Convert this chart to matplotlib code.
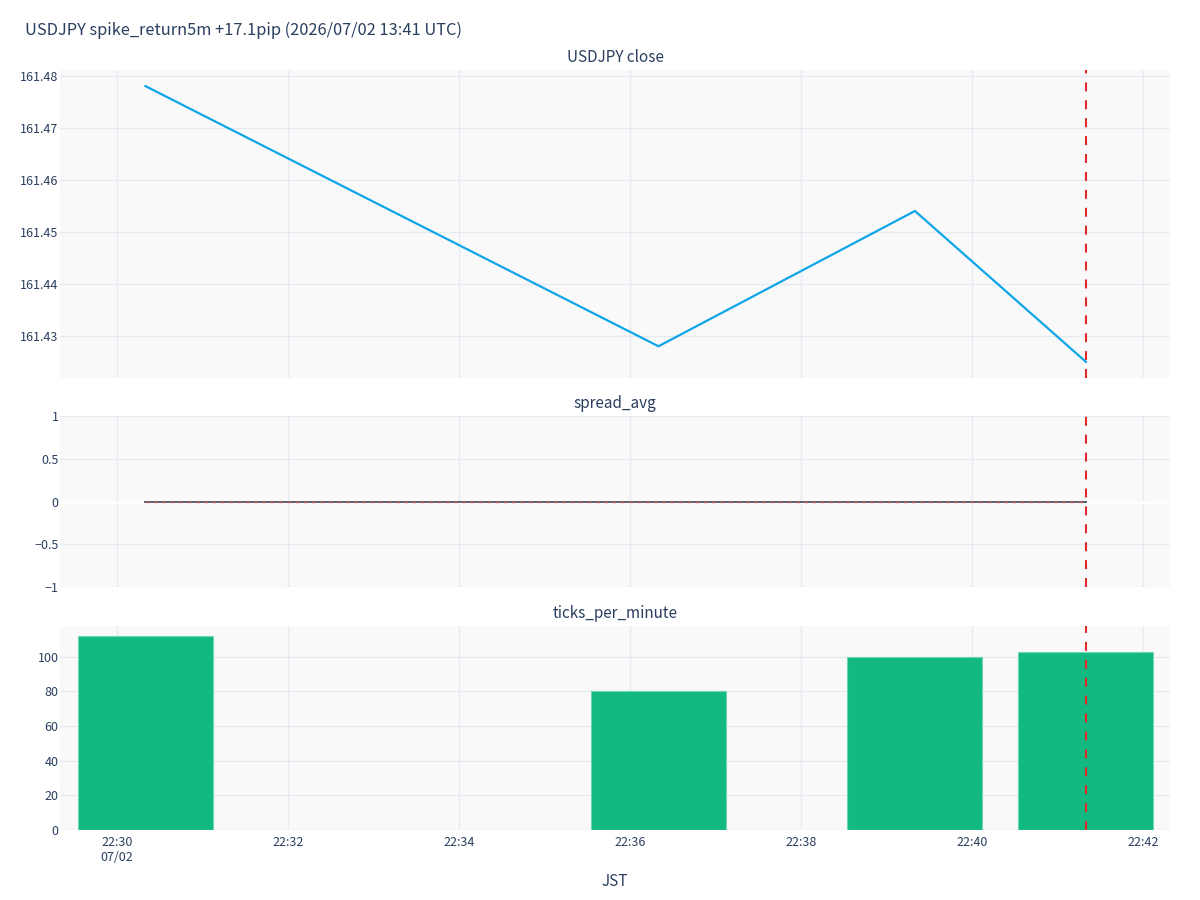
import matplotlib
matplotlib.use("Agg")
import matplotlib.pyplot as plt
import matplotlib.dates as mdates
import pandas as pd
import numpy as np

plt.rcParams['font.family'] = ['Noto Sans CJK JP', 'DejaVu Sans']

# ---- data ----
times = ["2026-07-02 22:30:20", "2026-07-02 22:36:20", "2026-07-02 22:39:20", "2026-07-02 22:41:20"]
close = [161.478, 161.428, 161.454, 161.425]
spread_avg = [0.0, 0.0, 0.0, 0.0]
ticks_per_minute = [112, 80, 100, 103]
event_time = "2026-07-02 22:41:20"
title = "USDJPY spike_return5m +17.1pip (2026/07/02 13:41 UTC)"
subtitles = ["USDJPY close", "spread_avg", "ticks_per_minute"]
xlim = ("2026-07-02 22:29:20", "2026-07-02 22:42:19")
close_ylim = (161.4219, 161.4811)
close_yticks = [161.43, 161.44, 161.45, 161.46, 161.47, 161.48]
spread_yticks = [-1, -0.5, 0, 0.5, 1]
spread_yticklabels = ["\u22121", "\u22120.5", "0", "0.5", "1"]
tick_ylim = (0, 117.8)
tick_yticks = [0, 20, 40, 60, 80, 100]
xticks = ["2026-07-02 22:30", "2026-07-02 22:32", "2026-07-02 22:34", "2026-07-02 22:36",
          "2026-07-02 22:38", "2026-07-02 22:40", "2026-07-02 22:42"]
xticklabels = ["22:30\n07/02", "22:32", "22:34", "22:36", "22:38", "22:40", "22:42"]
bar_width_min = 1.58

t = pd.to_datetime(times)
ev = pd.to_datetime(event_time)
xl = pd.to_datetime(list(xlim))
xt = pd.to_datetime(xticks)

TXT = "#2a3f5f"
BG = "#f9f9fa"
GRID = "#e6ebf2"

fig = plt.figure(figsize=(12, 9), dpi=100)
L, R = 0.05, 0.975
ax1 = fig.add_axes([L, 1 - 378/900, R - L, (378 - 70)/900])
ax2 = fig.add_axes([L, 1 - 587/900, R - L, (587 - 416)/900])
ax3 = fig.add_axes([L, 1 - 830/900, R - L, (830 - 626)/900])

for ax in (ax1, ax2, ax3):
    ax.set_facecolor(BG)
    for s in ax.spines.values():
        s.set_visible(False)
    ax.set_xlim(xl[0], xl[1])
    ax.set_xticks(xt)
    ax.grid(True, color=GRID, linewidth=1)
    ax.set_axisbelow(True)
    ax.tick_params(axis="x", length=0, labelsize=9, colors=TXT, pad=4)
    ax.tick_params(axis="y", length=0, labelsize=9, colors=TXT, pad=1)

for ax in (ax1, ax2):
    ax.tick_params(labelbottom=False)

ax3.set_xticklabels(xticklabels)

# panel 1
ax1.plot(t, close, color="#0ea5e9", linewidth=1.6, zorder=3)
ax1.set_ylim(*close_ylim)
ax1.set_yticks(close_yticks)
ax1.set_yticklabels([f"{v:.2f}" for v in close_yticks])

# panel 2
ax2.set_ylim(-1, 1)
ax2.set_yticks(spread_yticks)
ax2.set_yticklabels(spread_yticklabels)
ax2.axhline(0, color="white", linewidth=2, zorder=2)
ax2.plot(t[[0, -1]], [spread_avg[0], spread_avg[-1]], color="#5b5f6b", linewidth=1.4, zorder=3)
ax2.plot(t, spread_avg, color="#e0575a", linewidth=1.0, dashes=(3, 3), zorder=4, alpha=0.8)

# panel 3
w = bar_width_min / (24 * 60)
ax3.bar(t, ticks_per_minute, width=w, color="#12b981", edgecolor="#6fd6b2", linewidth=0.8, zorder=3)
ax3.set_ylim(*tick_ylim)
ax3.set_yticks(tick_yticks)

# event line
for ax in (ax1, ax2, ax3):
    ax.axvline(ev, color="#e02a2a", linewidth=1.5, dashes=(4.3, 4.3), zorder=5)

fig.text(25/1200, 1 - 30/900, title, fontsize=11.8, color=TXT, ha="left", va="center")
centers = [57, 404, 613]
for s, y in zip(subtitles, centers):
    fig.text((L + R) / 2, 1 - y/900, s, fontsize=11, color=TXT, ha="center", va="center")
fig.text((L + R) / 2, 1 - 882/900, "JST", fontsize=11, color=TXT, ha="center", va="center")

fig.savefig("out.png", dpi=100, facecolor="white")
